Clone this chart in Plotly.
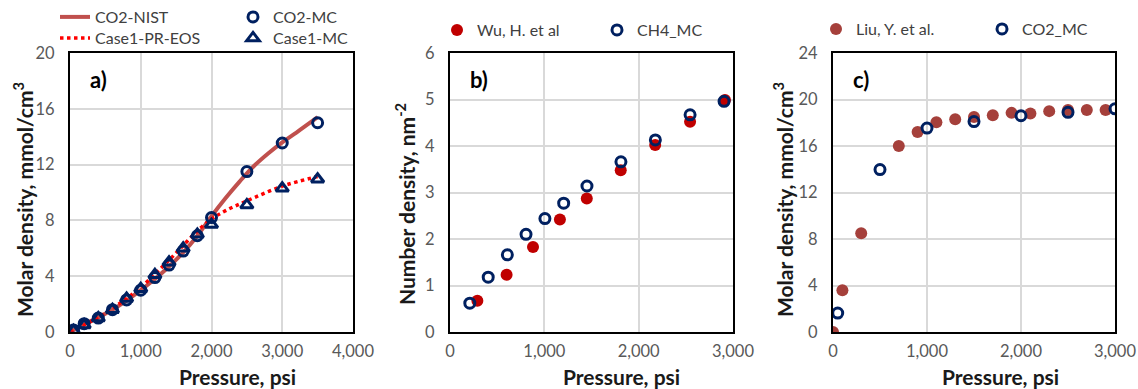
import plotly.graph_objects as go

# ---------------- data ----------------
# a) CO2 molar density vs pressure
p_nist = [0, 200, 400, 600, 800, 1000, 1200, 1400, 1600, 1800, 2000, 2200, 2400, 2600, 2800, 3000, 3200, 3500]
rho_nist = [0, 0.55, 1.05, 1.6, 2.25, 3.0, 3.8, 4.7, 5.7, 6.9, 8.3, 9.6, 10.8, 11.9, 12.8, 13.6, 14.3, 15.4]

p_preos = [0, 200, 400, 600, 800, 1000, 1200, 1400, 1600, 1800, 2000, 2200, 2500, 3000, 3500]
rho_preos = [0, 0.5, 1.05, 1.7, 2.4, 3.2, 4.15, 5.15, 6.2, 7.25, 8.1, 8.7, 9.4, 10.45, 11.15]

p_mc = [50, 200, 400, 600, 800, 1000, 1200, 1400, 1600, 1800, 2000, 2500, 3000, 3500]
rho_co2_mc = [0.15, 0.6, 1.0, 1.6, 2.3, 3.0, 3.9, 4.8, 5.8, 6.9, 8.2, 11.5, 13.55, 15.0]
rho_case1_mc = [0.1, 0.5, 1.0, 1.6, 2.4, 3.1, 4.1, 5.0, 6.0, 7.0, 7.7, 9.1, 10.3, 10.95]

# b) CH4 number density vs pressure
p_wu = [290, 600, 880, 1165, 1450, 1810, 2175, 2545, 2915]
n_wu = [0.67, 1.23, 1.83, 2.42, 2.87, 3.48, 4.02, 4.52, 4.99]
p_ch4 = [210, 405, 608, 806, 1006, 1205, 1452, 1812, 2177, 2545, 2905]
n_ch4 = [0.62, 1.18, 1.66, 2.10, 2.44, 2.77, 3.14, 3.66, 4.13, 4.67, 4.96]

# c) CO2 molar density vs pressure
p_liu = [0, 100, 300, 700, 900, 1100, 1300, 1500, 1700, 1900, 2100, 2300, 2500, 2700, 2900]
rho_liu = [0, 3.6, 8.5, 16.0, 17.2, 18.05, 18.3, 18.5, 18.65, 18.85, 18.8, 19.0, 19.1, 19.1, 19.1]
p_co2 = [50, 500, 1000, 1500, 2000, 2500, 3000]
rho_co2 = [1.63, 13.97, 17.54, 18.1, 18.6, 18.9, 19.2]

x_title = "Pressure, psi"
y_titles = ["Molar density, mmol/cm<sup>3</sup>", "Number density, nm<sup>-2</sup>",
            "Molar density, mmol/cm<sup>3</sup>"]
panel_tags = ["a)", "b)", "c)"]

# ---------------- styles ----------------
FONT = "Lato"
NAVY = "#002060"
TICK = "#595959"
GRID = "#d9d9d9"

open_circle = dict(symbol="circle-open", size=10, color=NAVY, line=dict(width=3, color=NAVY))
open_tri = dict(symbol="triangle-up-open", size=11, color=NAVY, line=dict(width=3, color=NAVY))

fig = go.Figure()

# a)
fig.add_trace(go.Scatter(x=p_nist, y=rho_nist, mode="lines", name="CO2-NIST",
                         line=dict(color="#C0504D", width=4, shape="spline"),
                         xaxis="x", yaxis="y", legend="legend"))
fig.add_trace(go.Scatter(x=p_preos, y=rho_preos, mode="lines", name="Case1-PR-EOS",
                         line=dict(color="#FF0000", width=3.5, dash="dot", shape="spline"),
                         xaxis="x", yaxis="y", legend="legend2"))
fig.add_trace(go.Scatter(x=p_mc, y=rho_co2_mc, mode="markers", name="CO2-MC",
                         marker=open_circle, xaxis="x", yaxis="y", legend="legend3"))
fig.add_trace(go.Scatter(x=p_mc, y=rho_case1_mc, mode="markers", name="Case1-MC",
                         marker=open_tri, xaxis="x", yaxis="y", legend="legend4"))

# b)
fig.add_trace(go.Scatter(x=p_wu, y=n_wu, mode="markers", name="Wu, H. et al",
                         marker=dict(symbol="circle", size=12, color="#C00000"),
                         xaxis="x2", yaxis="y2", legend="legend5"))
fig.add_trace(go.Scatter(x=p_ch4, y=n_ch4, mode="markers", name="CH4_MC",
                         marker=open_circle, xaxis="x2", yaxis="y2", legend="legend6"))

# c)
fig.add_trace(go.Scatter(x=p_liu, y=rho_liu, mode="markers", name="Liu, Y. et al.",
                         marker=dict(symbol="circle", size=12, color="#A5403B"),
                         xaxis="x3", yaxis="y3", legend="legend7"))
fig.add_trace(go.Scatter(x=p_co2, y=rho_co2, mode="markers", name="CO2_MC",
                         marker=open_circle, xaxis="x3", yaxis="y3", legend="legend8"))

W, H = 1138, 389
Y0, Y1 = (H - 332) / H, (H - 53) / H
doms = [(70 / W, 353 / W), (450 / W, 733 / W), (833 / W, 1115 / W)]


def xaxis(dom, rng, anchor):
    return dict(domain=list(dom), range=rng, dtick=1000, tickformat=",", anchor=anchor,
                showline=True, linecolor="black", linewidth=2, mirror=True,
                showgrid=True, gridcolor=GRID, gridwidth=2, zeroline=False,
                ticks="", ticklen=0, ticklabelstandoff=3, automargin=False,
                tickfont=dict(family=FONT, size=16.5, color=TICK))


def yaxis(rng, dtick, anchor):
    return dict(domain=[Y0, Y1], range=rng, dtick=dtick, anchor=anchor,
                showline=True, linecolor="black", linewidth=2, mirror=True,
                showgrid=True, gridcolor=GRID, gridwidth=2, zeroline=False,
                ticks="", ticklen=0, ticklabelstandoff=10, automargin=False,
                tickfont=dict(family=FONT, size=16.5, color=TICK))


def legend(x, y):
    return dict(x=x, y=y, xref="paper", yref="paper", xanchor="left", yanchor="middle",
                orientation="h", bgcolor="rgba(0,0,0,0)", itemwidth=30,
                font=dict(family=FONT, size=16, color="#404040"), tracegroupgap=0)


fig.update_layout(
    width=W, height=H,
    margin=dict(l=0, r=0, t=0, b=0, autoexpand=False),
    paper_bgcolor="white", plot_bgcolor="white",
    showlegend=True,
    xaxis=xaxis(doms[0], [0, 4000], "y"),
    xaxis2=xaxis(doms[1], [0, 3000], "y2"),
    xaxis3=xaxis(doms[2], [0, 3000], "y3"),
    yaxis=yaxis([0, 20], 4, "x"),
    yaxis2=yaxis([0, 6], 1, "x2"),
    yaxis3=yaxis([0, 24], 4, "x3"),
    legend=legend(55 / W, (H - 17) / H),
    legend2=legend(55 / W, (H - 38) / H),
    legend3=legend(233 / W, (H - 17) / H),
    legend4=legend(233 / W, (H - 38) / H),
    legend5=legend(437 / W, (H - 30) / H),
    legend6=legend(597 / W, (H - 30) / H),
    legend7=legend(816 / W, (H - 29) / H),
    legend8=legend(982 / W, (H - 29) / H),
)

title_font = dict(family=FONT, size=21, color="#1a1a1a")
x_title_px = [237, 621, 1000]
y_title_px = [(23, 200), (405, 204), (783, 200)]

for i in range(3):
    ax = "" if i == 0 else str(i + 1)
    # panel tag
    fig.add_annotation(text=f"<b>{panel_tags[i]}</b>", xref=f"x{ax} domain", yref=f"y{ax} domain",
                       x=0.065, y=0.905, xanchor="left", yanchor="middle", showarrow=False,
                       font=dict(family=FONT, size=22, color="black"))
    # x-axis title
    fig.add_annotation(text=f"<b>{x_title}</b>", xref="paper", yref="paper",
                       x=x_title_px[i] / W, y=(H - 376) / H, xanchor="center", yanchor="middle",
                       showarrow=False, font=title_font)
    # y-axis title
    yx, yy = y_title_px[i]
    fig.add_annotation(text=f"<b>{y_titles[i]}</b>", xref="paper", yref="paper",
                       x=yx / W, y=(H - yy) / H, xanchor="center", yanchor="middle",
                       textangle=-90, showarrow=False, font=title_font)

fig.write_html("out.html")
